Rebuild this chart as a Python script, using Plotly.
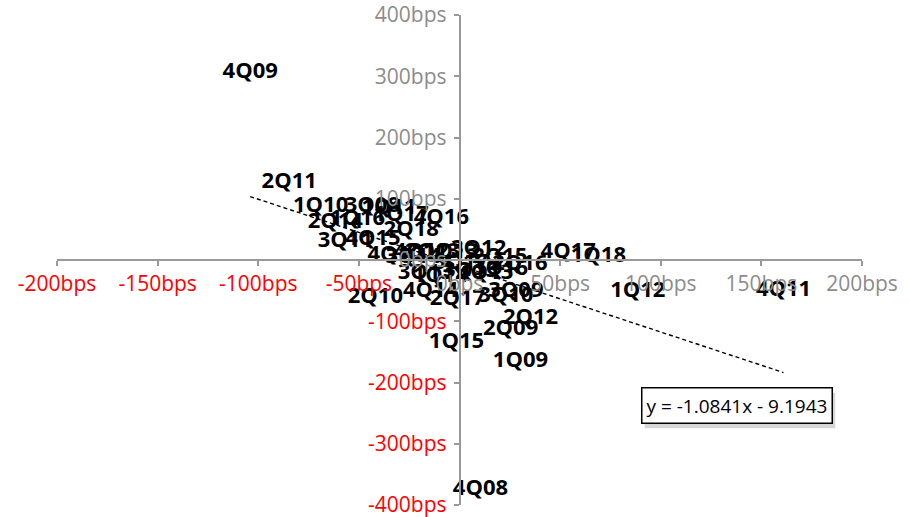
import plotly.graph_objects as go

# Quarter labels and their (x, y) values in bps
quarters = ["3Q08", "4Q08", "1Q09", "2Q09", "3Q09", "4Q09", "1Q10", "2Q10", "3Q10", "4Q10",
            "1Q11", "2Q11", "3Q11", "4Q11", "1Q12", "2Q12", "3Q12", "4Q12",
            "1Q13", "2Q13", "3Q13", "4Q13", "1Q14", "2Q14", "3Q14", "4Q14",
            "1Q15", "2Q15", "3Q15", "4Q15", "1Q16", "2Q16", "3Q16", "4Q16",
            "1Q17", "2Q17", "3Q17", "4Q17", "1Q18", "2Q18"]
x_bps = [-43.3, 10.4, 30.3, 25.4, 28.0, -104.0, -69.0, -41.8, 23.0, -32.0,
         -35.0, -84.6, -56.7, 161.0, 88.6, 35.3, 9.5, -19.0,
         -4.5, -13.4, -17.0, 13.0, -9.5, -61.7, -23.0, -14.4,
         -1.5, 20.0, 5.5, -43.0, -50.7, 30.0, 20.4, -9.0,
         -29.0, -1.0, 0.5, 54.0, 69.0, -24.0]
y_bps = [88.0, -374.0, -166.0, -114.0, -52.0, 306.0, 87.0, -62.0, -59.0, 8.0,
         84.0, 126.0, 30.0, -50.0, -52.0, -96.0, 16.6, 13.0,
         11.7, 13.0, -22.6, -22.6, -27.5, 61.0, 3.5, -52.0,
         -134.0, 4.0, -19.0, 33.0, 66.0, -8.0, -16.0, 67.0,
         73.0, -65.0, -6.0, 13.0, 5.0, 48.0]

# Trendline coefficients (as shown in the chart)
slope = -1.0841
intercept = -9.1943
equation_text = "y = -1.0841x - 9.1943"

# Axis ticks
x_ticks = [-200, -150, -100, -50, 0, 50, 100, 150, 200]
y_ticks = [-400, -300, -200, -100, 0, 100, 200, 300, 400]

GREY = "#8c8c8c"
RED = "#ff0000"


def tick_label(v):
    color = RED if v < 0 else GREY
    return f"<span style='color:{color}'>{v}bps</span>"


FONT = "Open Sans"

fig = go.Figure()

# Trendline across the data's x-range
x_min, x_max = min(x_bps), max(x_bps)
fig.add_trace(go.Scatter(
    x=[x_min, x_max],
    y=[slope * x_min + intercept, slope * x_max + intercept],
    mode="lines",
    line=dict(color="black", width=1.4, dash="4px,3px"),
    hoverinfo="skip",
    showlegend=False,
))

fig.add_trace(go.Scatter(
    x=x_bps, y=y_bps, text=quarters,
    mode="text",
    textposition="middle center",
    textfont=dict(family=FONT, size=22, color="black", weight="bold"),
    cliponaxis=False,
    showlegend=False,
))

# Equation box (shadow + box)
fig.add_annotation(
    x=138, y=-237, xref="x", yref="y",
    text=equation_text, showarrow=False,
    font=dict(family=FONT, size=19, color="rgba(0,0,0,0)"),
    bgcolor="rgba(0,0,0,0.16)", borderpad=4, borderwidth=1.5,
    bordercolor="rgba(0,0,0,0)",
    xshift=3, yshift=-5,
)
fig.add_annotation(
    x=138, y=-237, xref="x", yref="y",
    text=equation_text, showarrow=False,
    font=dict(family=FONT, size=19, color="black"),
    bgcolor="white", borderpad=4, borderwidth=1.5, bordercolor="black",
)

axis_common = dict(
    anchor="free", position=0.5,
    showgrid=False, zeroline=False,
    showline=True, linecolor="#999999", linewidth=1.5,
    ticks="outside", ticklen=5, tickcolor="#999999", tickwidth=1.5,
    tickfont=dict(family=FONT, size=21),
    ticklabeloverflow="allow",
    automargin=False, fixedrange=True,
)

fig.update_layout(
    width=910, height=517,
    margin=dict(l=57, r=48, t=15, b=12, autoexpand=False),
    paper_bgcolor="white", plot_bgcolor="white",
    font=dict(family=FONT, size=21, color=GREY),
    hovermode=False,
    xaxis=dict(
        range=[-200, 200],
        tickvals=x_ticks, ticktext=[tick_label(v) for v in x_ticks],
        **axis_common,
    ),
    yaxis=dict(
        range=[-400, 400],
        tickvals=y_ticks, ticktext=[tick_label(v) for v in y_ticks],
        ticklabelstandoff=3,
        **axis_common,
    ),
)

fig.write_html(
    "out.html",
    config={"displayModeBar": False},
    post_script="document.body.style.margin='0';document.body.style.overflow='hidden';",
)
